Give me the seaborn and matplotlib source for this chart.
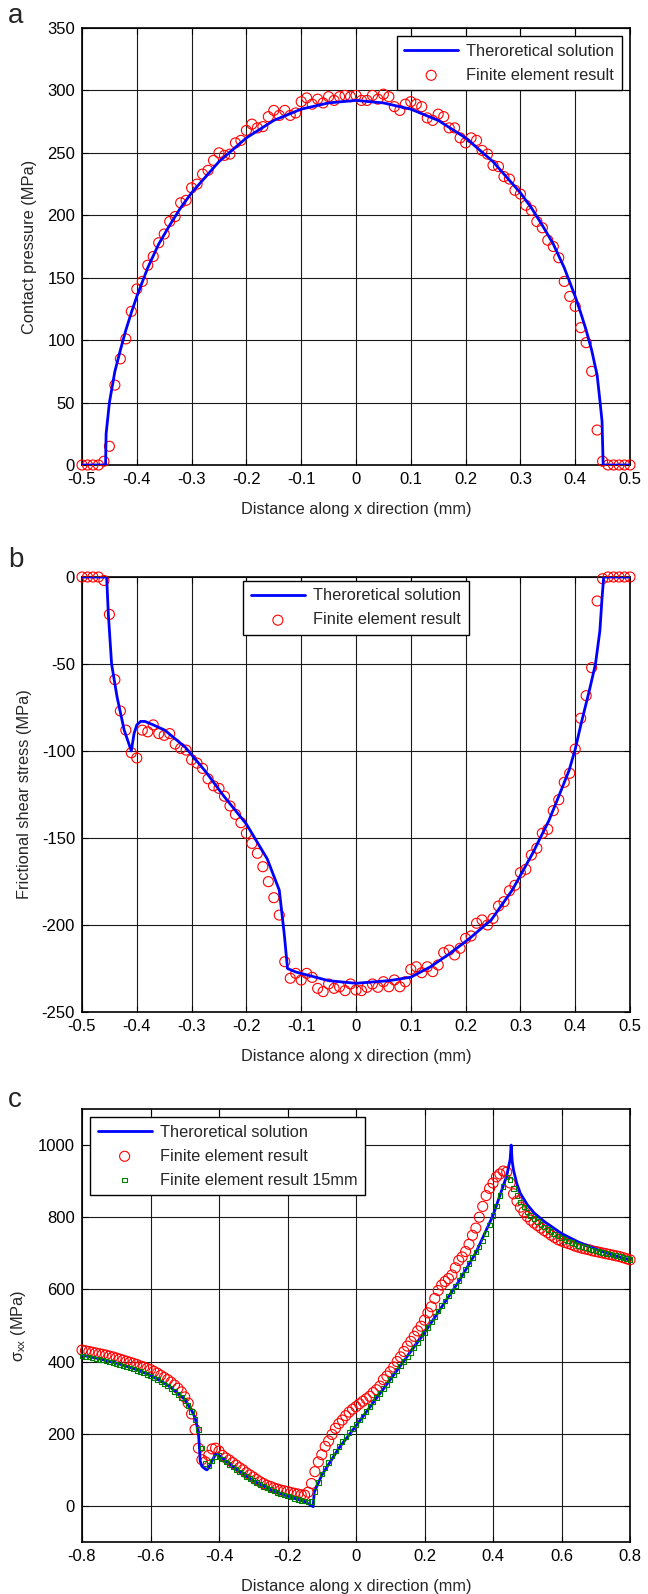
import numpy as np
import pandas as pd
import matplotlib
matplotlib.use("Agg")
import matplotlib.pyplot as plt
import seaborn as sns
from matplotlib.ticker import FuncFormatter

# ---------------- Panel a : contact pressure ----------------
xa_theory = [-0.50, -0.457, -0.456, -0.45, -0.44, -0.43, -0.425, -0.42, -0.41, -0.40, -0.38, -0.36,
             -0.34, -0.32, -0.30, -0.25, -0.20, -0.15, -0.10, -0.05, 0.00, 0.05, 0.10, 0.15, 0.20,
             0.25, 0.30, 0.32, 0.34, 0.36, 0.38, 0.40, 0.41, 0.42, 0.43, 0.44, 0.445, 0.449, 0.451, 0.50]
ya_theory = [0, 0, 25, 50, 75, 92, 100, 108, 122, 135, 158, 177,
             192, 206, 218, 243, 262, 276, 285, 290, 292, 290, 285, 276, 262,
             243, 218, 206, 192, 177, 158, 135, 122, 108, 92, 72, 52, 35, 0, 0]

xa_fe = np.round(np.arange(-0.50, 0.5001, 0.01), 2)
ya_fe = [0, 0, 0, 0, 3, 15, 64, 85, 101, 123,
         141, 147, 160, 167, 178, 185, 195, 199, 210, 212,
         222, 225, 233, 236, 244, 250, 248, 249, 258, 260,
         268, 273, 270, 271, 279, 284, 280, 284, 280, 282,
         291, 294, 289, 293, 290, 295, 292, 295, 296, 295,
         296, 292, 292, 296, 293, 297, 295, 287, 284, 289,
         291, 289, 287, 278, 276, 281, 279, 270, 270, 262,
         258, 262, 260, 252, 249, 240, 239, 231, 229, 220,
         217, 208, 204, 195, 190, 180, 175, 166, 147, 135,
         127, 110, 98, 75, 28, 3, 0, 0, 0, 0, 0]

# ---------------- Panel b : frictional shear stress ----------------
xb_theory = [-0.50, -0.455, -0.452, -0.446, -0.436, -0.423, -0.41, -0.405, -0.40, -0.393, -0.385,
             -0.37, -0.349, -0.311, -0.274, -0.241, -0.20, -0.162, -0.14, -0.131, -0.125, -0.11,
             -0.05, 0.00, 0.06, 0.10, 0.136, 0.173, 0.21, 0.247, 0.285, 0.322, 0.352, 0.370,
             0.389, 0.40, 0.411, 0.426, 0.437, 0.445, 0.449, 0.452, 0.50]
yb_theory = [0, 0, -21, -50, -69, -88, -100, -90, -85, -83, -83,
             -85, -88, -98, -112, -126, -142, -162, -180, -205, -225, -227,
             -232, -233.5, -232, -230, -224, -216, -207, -197, -180, -159, -140, -126,
             -111, -99, -84, -65, -50, -31, -12, 0, 0]

xb_fe = np.round(np.arange(-0.50, 0.5001, 0.01), 2)
yb_fe = [0, 0, 0, 0, -2, -21.5, -59, -77, -88, -101,
         -104, -88, -89, -85, -90, -91, -90, -96, -98.5, -99.5,
         -105, -107, -110, -116, -120, -121.5, -126, -131.6, -136.4, -141.2,
         -147.3, -153.1, -158.8, -166.5, -175.1, -184.3, -194.3, -221.1, -230.6, -227.8,
         -231.6, -227.8, -230.1, -236.4, -238.3, -233.9, -236.4, -235.5, -237.7, -233.9,
         -237.4, -237.7, -235.8, -233.9, -235.8, -232.6, -235.5, -231.6, -235.5, -232.6,
         -225.5, -224, -227.4, -224, -226.8, -223, -215.9, -214.4, -217.2, -213.4,
         -207.7, -206.3, -199, -197.1, -200, -196.2, -189.1, -186.6, -180.3, -177.2,
         -169.9, -168, -159.8, -155.9, -147.3, -145, -134.3, -128, -118, -112.8,
         -98.9, -81.2, -68.2, -52.1, -13.8, -1, 0, 0, 0, 0, 0]

# ---------------- Panel c : sigma_xx ----------------
xc_theory = [-0.80, -0.75, -0.70, -0.65, -0.60, -0.55, -0.52, -0.50, -0.48, -0.47, -0.465, -0.46,
             -0.457, -0.455, -0.45, -0.44, -0.435, -0.43, -0.42, -0.41, -0.40, -0.35, -0.30, -0.25,
             -0.20, -0.15, -0.125, -0.122, -0.10, -0.05, 0.00, 0.10, 0.20, 0.30, 0.35, 0.40, 0.42,
             0.44, 0.45, 0.453, 0.456, 0.46, 0.47, 0.48, 0.50, 0.52, 0.55, 0.60, 0.65, 0.70, 0.75, 0.80]
yc_theory = [418, 408, 396, 381, 362, 335, 312, 295, 265, 245, 225, 200,
             160, 125, 110, 102, 100, 106, 125, 143, 140, 102, 70, 45,
             27, 12, -2, 38, 85, 160, 222, 350, 480, 622, 702, 805, 860,
             915, 960, 1000, 955, 930, 892, 866, 835, 812, 788, 755, 731, 712, 695, 682]

xc_fe = np.round(np.arange(-0.80, 0.8001, 0.01), 2)
yc_fe = [432, 430, 428, 426, 424, 422, 420, 418, 415, 413,
         410, 407, 404, 401, 398, 395, 392, 388, 385, 381,
         378, 373, 368, 362, 356, 350, 343, 335, 326, 316,
         302, 285, 255, 212, 160, 128, 122, 140, 158, 160,
         152, 140, 133, 127, 120, 113, 106, 100, 92, 86,
         80, 73, 67, 62, 57, 54, 50, 47, 44, 42,
         40, 37, 35, 33, 31, 30, 38, 62, 95, 122,
         142, 165, 180, 198, 215, 228, 238, 250, 260, 268,
         275, 283, 290, 297, 304, 314, 322, 332, 350, 360,
         372, 385, 400, 413, 428, 443, 456, 470, 485, 498,
         515, 535, 552, 575, 597, 612, 622, 630, 640, 660,
         680, 690, 705, 725, 750, 770, 800, 830, 860, 880,
         895, 912, 920, 928, 925, 895, 865, 845, 828, 815,
         802, 792, 784, 777, 770, 763, 757, 750, 744, 738,
         734, 730, 727, 724, 720, 717, 714, 712, 710, 707,
         705, 703, 701, 699, 697, 695, 693, 691, 688, 685, 682]

yc_fe15 = [415, 413, 412, 410, 408, 406, 404, 402, 399, 397,
           394, 391, 388, 385, 382, 379, 375, 372, 368, 364,
           360, 355, 350, 344, 338, 332, 325, 317, 309, 300,
           290, 278, 262, 240, 212, 160, 118, 112, 125, 135,
           140, 130, 122, 115, 108, 101, 94, 88, 82, 76,
           70, 65, 59, 54, 49, 45, 41, 37, 33, 30,
           27, 24, 21, 18, 15, 13, 11, 12, 40, 65,
           88, 105, 120, 138, 152, 165, 178, 192, 204, 215,
           226, 238, 250, 262, 275, 288, 300, 312, 325, 337,
           350, 362, 375, 388, 400, 412, 425, 438, 452, 466,
           480, 495, 510, 525, 540, 555, 568, 582, 596, 610,
           625, 640, 655, 672, 688, 703, 718, 735, 755, 778,
           805, 832, 860, 885, 912, 905, 880, 860, 842, 828,
           815, 805, 797, 788, 780, 773, 766, 760, 754, 748,
           743, 738, 734, 730, 726, 722, 719, 716, 713, 710,
           707, 705, 702, 700, 698, 696, 694, 691, 688, 686, 683]

LINE_LABEL = "Theroretical solution"
FE_LABEL = "Finite element result"
FE15_LABEL = "Finite element result 15mm"
XLABEL = "Distance along x direction (mm)"

# ---------------- style ----------------
sns.set_theme(style="white")
plt.rcParams["font.family"] = ["Liberation Sans", "DejaVu Sans"]
plt.rcParams["axes.unicode_minus"] = False
plt.rcParams["mathtext.fontset"] = "custom"
plt.rcParams["mathtext.rm"] = "Liberation Sans"
plt.rcParams["mathtext.it"] = "Liberation Sans"
plt.rcParams["mathtext.sf"] = "Liberation Sans"

BLUE = "#0000FF"
RED = "#FF0000"
GREEN = "#008000"
TICK_FS = 12
LAB_FS = 11.8
LEG_FS = 11.8


def fmt(v, pos):
    s = f"{round(v, 3):g}"
    return "0" if s in ("-0", "0") else s


fig = plt.figure(figsize=(6.48, 15.94), dpi=100)
W, H = 648.0, 1594.0


def make_axes(left, top, right, bottom):
    return fig.add_axes([left / W, 1 - bottom / H, (right - left) / W, (bottom - top) / H])


def style_axes(ax, xlim, ylim, xticks, yticks):
    ax.set_xlim(*xlim)
    ax.set_ylim(*ylim)
    ax.set_xticks(xticks)
    ax.set_yticks(yticks)
    ax.xaxis.set_major_formatter(FuncFormatter(fmt))
    ax.yaxis.set_major_formatter(FuncFormatter(fmt))
    ax.grid(True, color="#1a1a1a", linewidth=0.8, linestyle="-")
    ax.set_axisbelow(True)
    for sp in ax.spines.values():
        sp.set_visible(True)
        sp.set_color("black")
        sp.set_linewidth(1.2)
    ax.tick_params(axis="both", direction="in", length=4, width=0.8, colors="black",
                   labelsize=TICK_FS, pad=5, top=True, right=True, bottom=True, left=True)
    ax.set_xlabel(XLABEL, fontsize=LAB_FS, labelpad=11)


def hollow(ax):
    ax.collections[-1].set_facecolor("none")


def legend(ax, **kw):
    kw.setdefault("borderaxespad", 0.6)
    leg = ax.legend(fontsize=LEG_FS, frameon=True, fancybox=False, framealpha=1,
                    edgecolor="black", handlelength=3.3, handletextpad=0.5,
                    borderpad=0.45, labelspacing=0.55, **kw)
    leg.get_frame().set_linewidth(1.0)
    return leg


# ---------- a ----------
ax_a = make_axes(82, 28, 630, 465)
sns.scatterplot(x=xa_fe, y=ya_fe, ax=ax_a, marker="o", s=52, color=RED,
                edgecolor=RED, linewidth=0.8, label=FE_LABEL, zorder=3, clip_on=False)
hollow(ax_a)
sns.lineplot(x=xa_theory, y=ya_theory, ax=ax_a, color=BLUE, linewidth=2.0,
             estimator=None, sort=False, label=LINE_LABEL, zorder=4)
style_axes(ax_a, (-0.5, 0.5), (0, 350), np.round(np.arange(-0.5, 0.501, 0.1), 1), np.arange(0, 351, 50))
ax_a.set_ylabel("Contact pressure (MPa)", fontsize=LAB_FS, labelpad=7)
h, l = ax_a.get_legend_handles_labels()
legend(ax_a, handles=[h[1], h[0]], labels=[l[1], l[0]], loc="upper right", borderaxespad=0.5)

# ---------- b ----------
ax_b = make_axes(82, 577, 630, 1012)
sns.scatterplot(x=xb_fe, y=yb_fe, ax=ax_b, marker="o", s=52, color=RED,
                edgecolor=RED, linewidth=0.8, label=FE_LABEL, zorder=3, clip_on=False)
hollow(ax_b)
sns.lineplot(x=xb_theory, y=yb_theory, ax=ax_b, color=BLUE, linewidth=2.0,
             estimator=None, sort=False, label=LINE_LABEL, zorder=4)
style_axes(ax_b, (-0.5, 0.5), (-250, 0), np.round(np.arange(-0.5, 0.501, 0.1), 1), np.arange(-250, 1, 50))
ax_b.set_ylabel("Frictional shear stress (MPa)", fontsize=LAB_FS, labelpad=7)
h, l = ax_b.get_legend_handles_labels()
legend(ax_b, handles=[h[1], h[0]], labels=[l[1], l[0]], loc="upper center",
       bbox_to_anchor=(0.5, 1.0), borderaxespad=0.25)

# ---------- c ----------
ax_c = make_axes(82, 1109, 630, 1542)
sns.scatterplot(x=xc_fe, y=yc_fe, ax=ax_c, marker="o", s=52, color=RED,
                edgecolor=RED, linewidth=0.8, label=FE_LABEL, zorder=3, clip_on=False)
hollow(ax_c)
sns.lineplot(x=xc_theory, y=yc_theory, ax=ax_c, color=BLUE, linewidth=2.0,
             estimator=None, sort=False, label=LINE_LABEL, zorder=4)
sns.scatterplot(x=xc_fe, y=yc_fe15, ax=ax_c, marker="s", s=10, color=GREEN,
                edgecolor=GREEN, linewidth=0.8, label=FE15_LABEL, zorder=5, clip_on=False)
hollow(ax_c)
style_axes(ax_c, (-0.8, 0.8), (-100, 1100), np.round(np.arange(-0.8, 0.801, 0.2), 1), np.arange(0, 1001, 200))
ax_c.set_ylabel(r"$\sigma_{xx}$ (MPa)", fontsize=LAB_FS, labelpad=7)
h, l = ax_c.get_legend_handles_labels()
legend(ax_c, handles=[h[1], h[0], h[2]], labels=[l[1], l[0], l[2]], loc="upper left",
       borderaxespad=0.5)

# panel letters
for letter, ybase in (("a", 23), ("b", 567), ("c", 1107)):
    fig.text(8 / W, 1 - ybase / H, letter, fontsize=20, ha="left", va="baseline")

fig.savefig("out.png", dpi=100)
